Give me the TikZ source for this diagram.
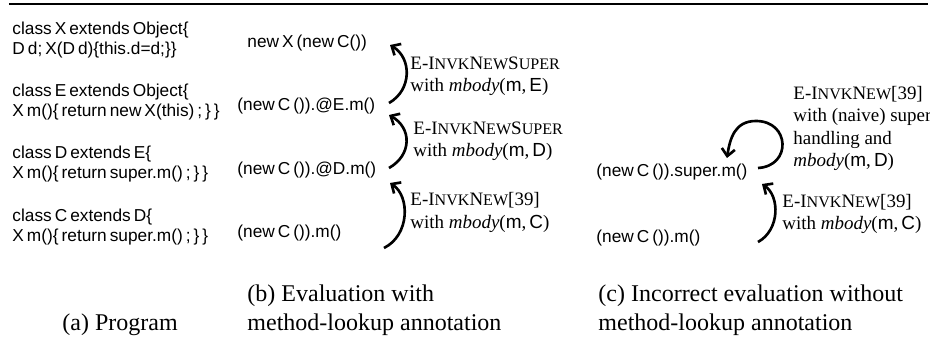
\documentclass[tikz,border=0pt]{standalone}
\usepackage{fontspec}
\setmainfont{Liberation Serif}
\setsansfont{Liberation Sans}
\usetikzlibrary{arrows.meta}
\newcommand{\sck}[1]{{\fontsize{6.7}{9}\selectfont #1}}
\newcommand{\mbodyof}[1]{\textit{mbody}(\textsf{m},\,\textsf{#1})}
\newcommand{\codefont}{\sffamily\fontsize{7.2}{8.4}\selectfont\spaceskip=1.25pt plus 0.3pt\relax}
\begin{document}
\begin{tikzpicture}[x=0.4167pt,y=-0.4167pt,
  code/.style={anchor=west,inner sep=0pt,align=left,font=\codefont},
  rulelabel/.style={anchor=west,inner sep=0pt,align=left,font=\fontsize{7.9}{9.2}\selectfont},
  subcap/.style={anchor=west,inner sep=0pt,align=left,font=\fontsize{10}{12}\selectfont},
  evalarrow/.style={line width=1.1pt,-{Straight Barb[length=3pt,width=5.5pt]}}]
  \useasboundingbox (0,0) rectangle (930,356);
  \draw[line width=0.8pt] (9,4) -- (928,4);
  \node[code] (clsX) at (12,40) {class X extends Object\{\\D d; X(D d)\{this.d=d;\}\}};
  \node[code] (clsE) at (12,102) {class E extends Object\{\\X m()\{ return new X(this) ; \} \}};
  \node[code] (clsD) at (12,164) {class D extends E\{\\X m()\{ return super.m() ; \} \}};
  \node[code] (clsC) at (12,227) {class C extends D\{\\X m()\{ return super.m() ; \} \}};
  \node[code] (bX) at (247,43) {new X (new C())}; \node[code] (bE) at (237,106) {(new C ()).@E.m()};
  \node[code] (bD) at (237,170) {(new C ()).@D.m()}; \node[code] (bC) at (237,233) {(new C ()).m()};
  \coordinate (bt1) at (389,103); \coordinate (bh1) at (390,45);
  \coordinate (bt2) at (389,168); \coordinate (bh2) at (389,115);
  \coordinate (bt3) at (384,248); \coordinate (bh3) at (390,183);
  \draw[evalarrow] (bt1) .. controls (412,90) and (412,58) .. (bh1);
  \draw[evalarrow] (bt2) .. controls (412,155) and (412,128) .. (bh2);
  \draw[evalarrow] (bt3) .. controls (410,235) and (410,196) .. (bh3);
  \node[rulelabel] (bL1) at (410,76.5) {E-I\sck{NVK}N\sck{EW}S\sck{UPER}\\with \mbodyof{E}};
  \node[rulelabel] (bL2) at (413,141) {E-I\sck{NVK}N\sck{EW}S\sck{UPER}\\with \mbodyof{D}};
  \node[rulelabel] (bL3) at (410,212.5) {E-I\sck{NVK}N\sck{EW}[39]\\with \mbodyof{C}};
  \node[code] (cS) at (596,172) {(new C ()).super.m()}; \node[code] (cC) at (596,238) {(new C ()).m()};
  \coordinate (ct1) at (758,168); \coordinate (ch1) at (727,158);
  \coordinate (ct2) at (758,242); \coordinate (ch2) at (762,184);
  \draw[evalarrow] (ct1) .. controls (792,166) and (790,121) .. (756,121) .. controls (735,121) and (730,138) .. (ch1);
  \draw[evalarrow] (ct2) .. controls (780,230) and (780,196) .. (ch2);
  \node[rulelabel] (cL1) at (793,128.5) {E-I\sck{NVK}N\sck{EW}[39]\\with (naive) super\\handling and\\\mbodyof{D}};
  \node[rulelabel] (cL2) at (782,214) {E-I\sck{NVK}N\sck{EW}[39]\\with \mbodyof{C}};
  \node[subcap] (capA) at (62,325) {(a) Program};
  \node[subcap] (capB) at (247,310.5) {(b) Evaluation with\\method-lookup annotation};
  \node[subcap] (capC) at (598,310.5) {(c) Incorrect evaluation without\\method-lookup annotation};
\end{tikzpicture}
\end{document}
